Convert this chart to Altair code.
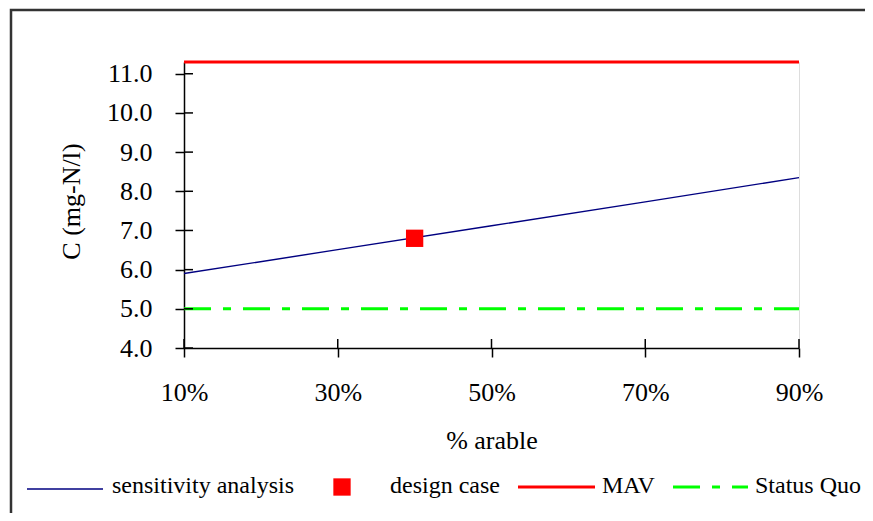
import altair as alt
import pandas as pd

# ---- data ----
arable_pct = [10, 30, 50, 70, 90]
sens_conc = [5.90, 6.51, 7.12, 7.73, 8.35]
design_pct = [40]
design_conc = [6.80]
mav_value = 11.3
status_quo_value = 5.0
x_ticks = [10, 30, 50, 70, 90]
y_ticks = [4, 5, 6, 7, 8, 9, 10, 11]

W, H = 615, 286
FONT = "Liberation Serif"
FS = 26

df_sens = pd.DataFrame({"pct": arable_pct, "c": sens_conc})
df_design = pd.DataFrame({"pct": design_pct, "c": design_conc})
df_mav = pd.DataFrame({"x0": [arable_pct[0]], "x1": [arable_pct[-1]], "c": [mav_value]})
df_sq = pd.DataFrame({"x0": [arable_pct[0]], "x1": [arable_pct[-1]], "c": [status_quo_value]})
df_xt = pd.DataFrame({"pct": x_ticks})
df_yt = pd.DataFrame({"c": y_ticks})
one = pd.DataFrame({"k": [0]})

xscale = alt.Scale(domain=[10, 90], nice=False, zero=False)
yscale = alt.Scale(domain=[4, 11.3], nice=False, zero=False)

xaxis = alt.Axis(values=x_ticks, labelExpr="datum.value + '%'", grid=False,
                 domainColor="black", domainWidth=1.5, tickColor="black", tickWidth=1.5,
                 tickSize=9, labelPadding=22, labelFont=FONT, labelFontSize=FS,
                 labelColor="black", titleFont=FONT, titleFontSize=FS, titleFontWeight="normal",
                 titleColor="black", titlePadding=22, labelFlush=False)
yaxis = alt.Axis(values=y_ticks, format=".1f", grid=False,
                 domainColor="black", domainWidth=1.5, tickColor="black", tickWidth=1.5,
                 tickSize=9, labelPadding=23, labelFont=FONT, labelFontSize=FS,
                 labelColor="black", titleFont=FONT, titleFontSize=FS, titleFontWeight="normal",
                 titleColor="black", titlePadding=22, titleY=139, labelFlush=False)

sens = alt.Chart(df_sens).mark_line(color="#000080", strokeWidth=1.4).encode(
    x=alt.X("pct:Q", scale=xscale, axis=xaxis, title="% arable"),
    y=alt.Y("c:Q", scale=yscale, axis=yaxis, title="C (mg-N/l)"),
)

mav = alt.Chart(df_mav).mark_rule(color="#FF0000", strokeWidth=3).encode(
    x=alt.X("x0:Q", scale=xscale), x2="x1:Q", y=alt.Y("c:Q", scale=yscale)
)
sq = alt.Chart(df_sq).mark_rule(color="#00FF00", strokeWidth=3, strokeDash=[27, 12, 8, 12]).encode(
    x=alt.X("x0:Q", scale=xscale), x2="x1:Q", y=alt.Y("c:Q", scale=yscale)
)
design = alt.Chart(df_design).mark_square(size=300, color="#FF0000", opacity=1).encode(
    x=alt.X("pct:Q", scale=xscale), y=alt.Y("c:Q", scale=yscale)
)

# inward half of the crossing ticks
xt_in = alt.Chart(df_xt).mark_rule(color="black", strokeWidth=1.5).encode(
    x=alt.X("pct:Q", scale=xscale), y=alt.value(H), y2=alt.value(H - 9)
)
yt_in = alt.Chart(df_yt).mark_rule(color="black", strokeWidth=1.5).encode(
    y=alt.Y("c:Q", scale=yscale), x=alt.value(0), x2=alt.value(9)
)

# outer frame
frame = alt.Chart(one).mark_rect(fill=None, stroke="#333333", strokeWidth=2.5).encode(
    x=alt.value(-173), x2=alt.value(760), y=alt.value(-52), y2=alt.value(480)
)

# legend (manual)
LY = 426
TY = 431
LFS = 24
leg = [
    alt.Chart(one).mark_rule(color="#000080", strokeWidth=1.6).encode(
        x=alt.value(-157), x2=alt.value(-81), y=alt.value(LY + 1)),
    alt.Chart(one).mark_text(align="left", baseline="alphabetic", font=FONT, fontSize=LFS, color="black").encode(
        x=alt.value(-72), y=alt.value(TY), text=alt.value("sensitivity analysis")),
    alt.Chart(one).mark_square(size=300, color="#FF0000", opacity=1).encode(
        x=alt.value(158), y=alt.value(LY - 1)),
    alt.Chart(one).mark_text(align="left", baseline="alphabetic", font=FONT, fontSize=LFS, color="black").encode(
        x=alt.value(206), y=alt.value(TY), text=alt.value("design case")),
    alt.Chart(one).mark_rule(color="#FF0000", strokeWidth=3).encode(
        x=alt.value(334), x2=alt.value(411), y=alt.value(LY - 1)),
    alt.Chart(one).mark_text(align="left", baseline="alphabetic", font=FONT, fontSize=LFS, color="black").encode(
        x=alt.value(418), y=alt.value(TY), text=alt.value("MAV")),
    alt.Chart(one).mark_rule(color="#00FF00", strokeWidth=3, strokeDash=[27, 12, 8, 12]).encode(
        x=alt.value(489), x2=alt.value(564), y=alt.value(LY - 1)),
    alt.Chart(one).mark_text(align="left", baseline="alphabetic", font=FONT, fontSize=LFS, color="black").encode(
        x=alt.value(571), y=alt.value(TY), text=alt.value("Status Quo")),
]

chart = alt.layer(frame, sq, sens, mav, design, xt_in, yt_in, *leg).properties(
    width=W, height=H,
    autosize=alt.AutoSizeParams(type="none"),
    padding={"left": 176, "top": 54, "right": 66, "bottom": 165},
).configure_view(stroke=None).configure(background="white")

chart.save("out.html", embed_options={"renderer": "svg", "actions": False})
